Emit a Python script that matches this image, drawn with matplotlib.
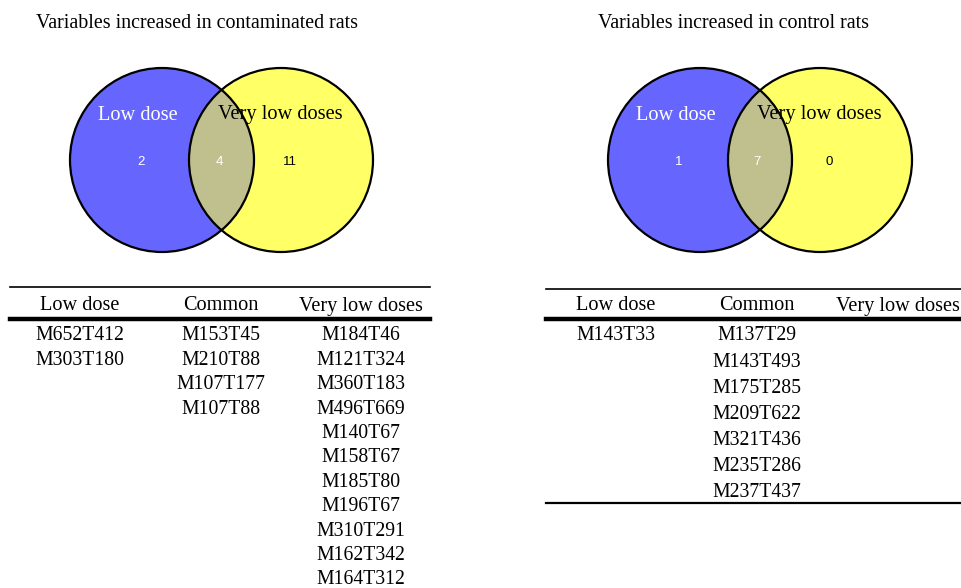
import matplotlib
matplotlib.use('Agg')
import matplotlib.pyplot as plt
from matplotlib.patches import Circle

# venn counts: (low only, common, very low only)
contam_counts = [2, 4, 11]
control_counts = [1, 7, 0]

titles = ['Variables increased in contaminated rats',
          'Variables increased in control rats']
set_names = ['Low dose', 'Very low doses']
headers = ['Low dose', 'Common', 'Very low doses']

contam_low = ['M652T412', 'M303T180']
contam_common = ['M153T45', 'M210T88', 'M107T177', 'M107T88']
contam_verylow = ['M184T46', 'M121T324', 'M360T183', 'M496T669', 'M140T67',
                  'M158T67', 'M185T80', 'M196T67', 'M310T291', 'M162T342',
                  'M164T312']

control_low = ['M143T33']
control_common = ['M137T29', 'M143T493', 'M175T285', 'M209T622', 'M321T436',
                  'M235T286', 'M237T437']
control_verylow = []

SERIF = ['Liberation Serif', 'DejaVu Serif']
SANS = ['Liberation Sans', 'DejaVu Sans']

fig = plt.figure(figsize=(9.61, 5.88), dpi=100)
ax = fig.add_axes([0, 0, 1, 1])
ax.set_xlim(0, 961)
ax.set_ylim(588, 0)
ax.axis('off')

blue = '#6666ff'
yellow = '#ffff66'
mix = '#c0bf8e'


def venn(cx1, cx2, cy, r, counts, title, title_x):
    ax.text(title_x, 24, title, ha='center', va='center', fontsize=14.4,
            family=SERIF)
    ax.add_patch(Circle((cx1, cy), r, fc=blue, ec='none', zorder=1))
    ax.add_patch(Circle((cx2, cy), r, fc=yellow, ec='none', zorder=1))
    # intersection: yellow circle clipped by blue circle
    clip = Circle((cx1, cy), r, transform=ax.transData)
    inter = Circle((cx2, cy), r, fc=mix, ec='none', zorder=2)
    ax.add_patch(inter)
    inter.set_clip_path(clip)
    ax.add_patch(Circle((cx1, cy), r, fc='none', ec='black', lw=1.6, zorder=3))
    ax.add_patch(Circle((cx2, cy), r, fc='none', ec='black', lw=1.6, zorder=3))
    ax.text(cx1 - 24, 115, set_names[0], color='white', ha='center',
            va='center', fontsize=14.7, family=SERIF, zorder=4)
    ax.text(cx2 - 1, 115, set_names[1], color='black', ha='center',
            va='center', fontsize=14.7, family=SERIF, zorder=4)
    xs = [cx1 - 21, (cx1 + cx2) / 2 - 2.5, cx2 + 9]
    cols = ['white', 'white', 'black']
    for x, c, col in zip(xs, counts, cols):
        ax.text(x, 162, str(c), color=col, ha='center', va='center',
                fontsize=9.5, family=SANS, zorder=4)


def table(x0, x1, col_x, columns, top_y, row0, step, bottom_y=None):
    ax.plot([x0, x1], [top_y, top_y], color='black', lw=1.2)
    for x, h in zip(col_x, headers):
        ax.text(x, 306, h, ha='center', va='center', fontsize=14.6,
                family=SERIF)
    ax.plot([x0, x1], [319, 319], color='black', lw=3.2)
    for x, col in zip(col_x, columns):
        for i, v in enumerate(col):
            ax.text(x, row0 + i * step, v, ha='center', va='center',
                    fontsize=14.2, family=SERIF)
    if bottom_y is not None:
        ax.plot([x0, x1], [bottom_y, bottom_y], color='black', lw=1.6)


venn(162, 281, 160, 92, contam_counts, titles[0], 197)
venn(700, 820, 160, 92, control_counts, titles[1], 734)

table(10, 430, [80, 221, 361], [contam_low, contam_common, contam_verylow],
      287, 336, 24.4)
table(546, 961, [616, 757, 898], [control_low, control_common, control_verylow],
      289, 336, 26.1, bottom_y=503)

fig.savefig('out.png', dpi=100)
